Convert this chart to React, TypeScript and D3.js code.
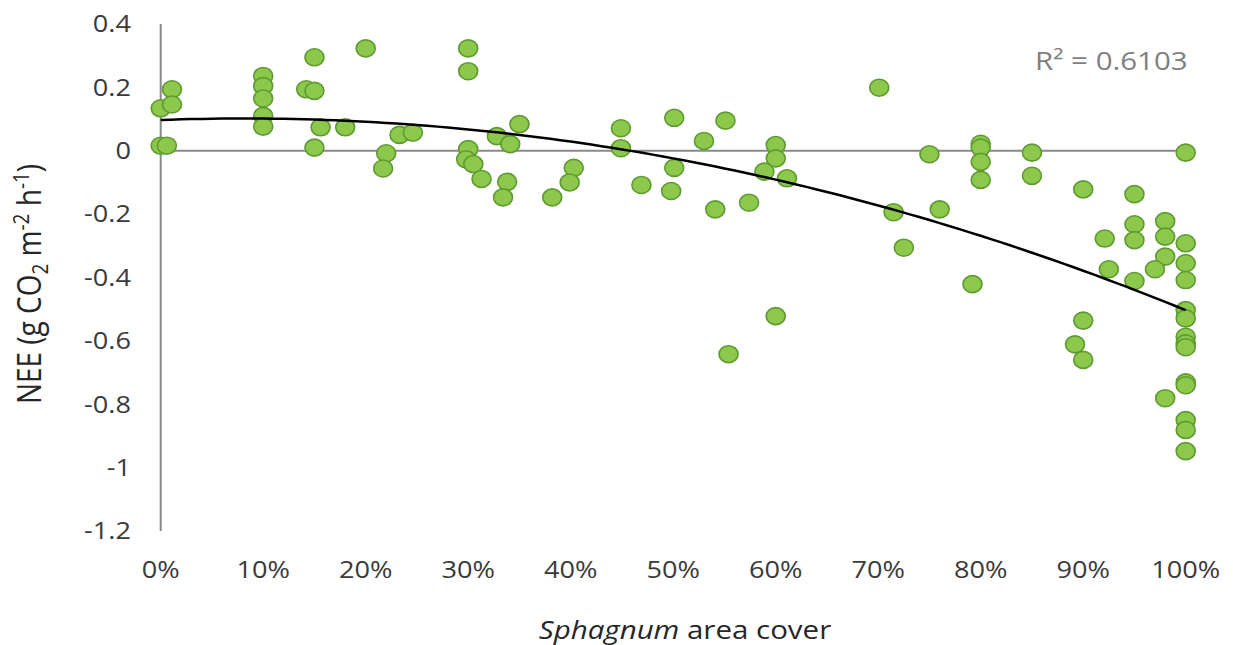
import React from 'react'
import * as d3 from 'd3'

// Sphagnum cover (%) and NEE (g CO2 m-2 h-1)
const coverPct = [
  0, 1.1, 1.1, 0, 0.6,
  10, 10, 10, 10, 10,
  15, 14.2, 15, 15.6, 15, 18, 20, 22, 21.7, 23.3, 24.6,
  30, 30, 30, 29.8, 30.5, 31.3, 32.8, 34.1, 35, 33.8, 33.4,
  38.2, 40.3, 39.9, 44.9, 44.9, 46.9, 50.1, 50.1, 49.8, 53, 55.1, 54.1, 57.4,
  60, 60, 58.9, 61.1, 60, 55.4,
  70.1, 75, 80, 80, 80, 80, 85, 85, 90, 95, 100,
  71.5, 76, 72.5, 79.2, 90, 89.2, 90,
  92.1, 92.5, 95, 95, 95, 98, 98, 98, 97, 98,
  100, 100, 100, 100, 100, 100, 100, 100, 100, 100, 100, 100, 100
]
const nee = [
  0.134, 0.194, 0.146, 0.016, 0.016,
  0.236, 0.204, 0.165, 0.11, 0.076,
  0.295, 0.194, 0.189, 0.074, 0.01, 0.074, 0.323, -0.008, -0.056, 0.05, 0.057,
  0.323, 0.251, 0.005, -0.027, -0.042, -0.089, 0.046, 0.021, 0.084, -0.098, -0.147,
  -0.147, -0.054, -0.1, 0.071, 0.008, -0.108, 0.104, -0.054, -0.127, 0.031, 0.095, -0.185, -0.164,
  0.018, -0.024, -0.066, -0.087, -0.522, -0.642,
  0.199, -0.011, 0.022, 0.01, -0.035, -0.092, -0.006, -0.079, -0.122, -0.137, -0.006,
  -0.194, -0.185, -0.306, -0.421, -0.536, -0.611, -0.66,
  -0.277, -0.374, -0.232, -0.282, -0.411, -0.222, -0.271, -0.334, -0.374, -0.781,
  -0.292, -0.355, -0.408, -0.503, -0.529, -0.587, -0.608, -0.62, -0.731, -0.74, -0.85, -0.881, -0.948
]
const yTicks = [0.4, 0.2, 0, -0.2, -0.4, -0.6, -0.8, -1, -1.2]
const xTicks = [0, 0.1, 0.2, 0.3, 0.4, 0.5, 0.6, 0.7, 0.8, 0.9, 1]
const rSquared = '0.6103'
// poly trendline (order 2) as shown in the figure: a + b*x + c*x^2, x as fraction
const trendCoef = [0.097, 0.116, -0.716]

const SX = 1.18 // the original is a bit stretched sideways
const font = "'Open Sans', sans-serif"

export default function App() {
  const x = d3.scaleLinear().domain([0, 1]).range([160.7, 1185.7])
  const y = d3.scaleLinear().domain([0.4, -1.2]).range([24, 531])

  const pts = coverPct.map((p, i) => ({ cover: p / 100, v: nee[i] }))
  const fit = (c: number) => trendCoef[0] + trendCoef[1] * c + trendCoef[2] * c * c
  const line = d3.line<number>().x(d => x(d)).y(d => y(fit(d)))
  const fitPath = line(d3.range(0, 1.0001, 0.01))

  const fmtX = d3.format('.0%')
  const fmtY = (v: number) => String(+v.toFixed(1))

  return (
    <svg width={1233} height={645} style={{ position: 'absolute', left: 0, top: 0, background: '#fff' }}>
      {/* axes */}
      <line x1={x(0)} x2={x(0)} y1={y(0.4)} y2={y(-1.2)} stroke="#8a8a8a" strokeWidth={2} />
      <line x1={x(0)} x2={x(1)} y1={y(0)} y2={y(0)} stroke="#8a8a8a" strokeWidth={2} />

      {yTicks.map(t => (
        <text key={t} transform={`translate(131,${y(t)}) scale(${SX},1)`} dy="0.36em"
          textAnchor="end" fontFamily={font} fontSize={23} fill="#3a3a3a">{fmtY(t)}</text>
      ))}
      {xTicks.map(t => (
        <text key={t} transform={`translate(${x(t)},578) scale(${SX},1)`}
          textAnchor="middle" fontFamily={font} fontSize={23} fill="#3a3a3a">{fmtX(t)}</text>
      ))}

      {/* points */}
      {pts.map((d, i) => (
        <ellipse key={i} cx={x(d.cover)} cy={y(d.v)} rx={9.5} ry={8.5}
          fill="#8cc84b" stroke="#5e9a30" strokeWidth={1.6} />
      ))}

      {/* trendline */}
      <path d={fitPath || ''} fill="none" stroke="#000" strokeWidth={2.5} />

      <text transform={`translate(1035,70) scale(${SX},1)`} fontFamily={font} fontSize={25} fill="#7f7f7f">
        R² = {rSquared}
      </text>

      {/* axis titles */}
      <text transform={`translate(685,639) scale(${SX},1)`} textAnchor="middle" fontFamily={font} fontSize={25} fill="#262626">
        <tspan fontStyle="italic">Sphagnum</tspan> area cover
      </text>
      <text transform={`translate(41,284) scale(${SX},1) rotate(-90)`} textAnchor="middle" fontFamily={font} fontSize={28} fill="#262626">
        NEE (g CO<tspan fontSize={19} dy={6}>2</tspan><tspan dy={-6}> m</tspan>
        <tspan fontSize={19} dy={-10}>-2</tspan><tspan dy={10}> h</tspan>
        <tspan fontSize={19} dy={-10}>-1</tspan><tspan dy={10}>)</tspan>
      </text>
    </svg>
  )
}
